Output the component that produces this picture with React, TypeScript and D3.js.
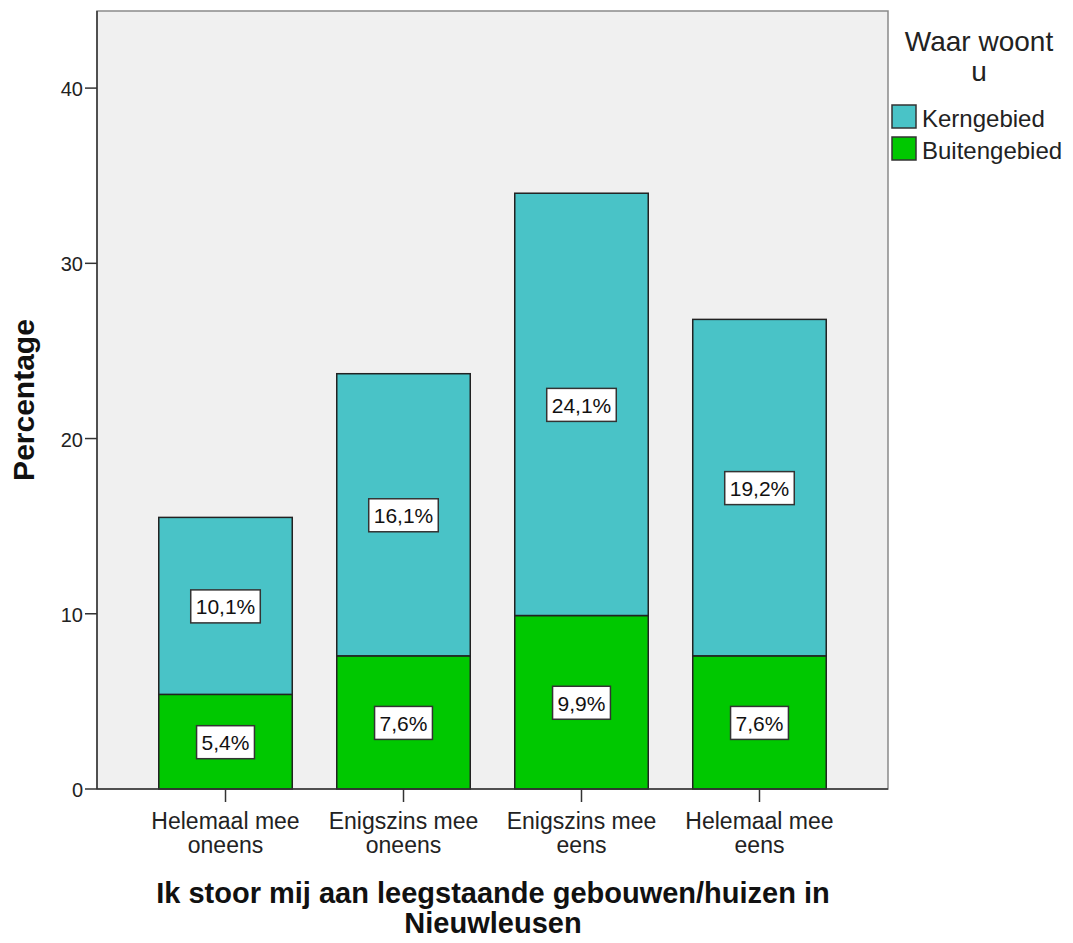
import React, { useEffect, useRef } from 'react';
import * as d3 from 'd3';

const categories = [
  ['Helemaal mee', 'oneens'],
  ['Enigszins mee', 'oneens'],
  ['Enigszins mee', 'eens'],
  ['Helemaal mee', 'eens']
];
const buitengebied = [5.4, 7.6, 9.9, 7.6];
const kerngebied = [10.1, 16.1, 24.1, 19.2];
const seriesNames = ['Kerngebied', 'Buitengebied'];
const yTicks = [0, 10, 20, 30, 40];

const WIDTH = 1073;
const HEIGHT = 943;
const FONT = '"Liberation Sans", Arial, sans-serif';
const colors = { Kerngebied: '#49C3C7', Buitengebied: '#00C800' };

const App = () => {
  const rootRef = useRef<SVGSVGElement>(null);

  useEffect(() => {
    const svg = d3.select(rootRef.current).attr('width', WIDTH).attr('height', HEIGHT);
    svg.selectAll('*').remove();

    const left = 97, right = 888, top = 11, bottom = 789;

    const x = d3
      .scaleBand<number>()
      .domain(d3.range(categories.length))
      .range([left, right])
      .paddingInner(0.25)
      .paddingOuter(0.347);
    const y = d3.scaleLinear().domain([0, 44.4]).range([bottom, top]);

    // plot background + frame
    svg.append('rect')
      .attr('x', left).attr('y', top)
      .attr('width', right - left).attr('height', bottom - top)
      .attr('fill', '#F0F0F0')
      .attr('stroke', '#8a8a8a').attr('stroke-width', 1.5);

    // stacked bars
    const rows = categories.map((_, i) => ({ i, Buitengebied: buitengebied[i], Kerngebied: kerngebied[i] }));
    const stack = d3.stack<any>().keys(['Buitengebied', 'Kerngebied'])(rows);

    stack.forEach((layer) => {
      const g = svg.append('g');
      g.selectAll('rect')
        .data(layer)
        .enter()
        .append('rect')
        .attr('x', (d: any) => x(d.data.i)!)
        .attr('width', x.bandwidth())
        .attr('y', (d: any) => y(d[1]))
        .attr('height', (d: any) => y(d[0]) - y(d[1]))
        .attr('fill', (colors as any)[layer.key])
        .attr('stroke', '#222')
        .attr('stroke-width', 1.5);
    });

    // value labels
    stack.forEach((layer) => {
      layer.forEach((d: any) => {
        const v = d[1] - d[0];
        const cx = x(d.data.i)! + x.bandwidth() / 2;
        const cy = y((d[0] + d[1]) / 2);
        const label = v.toFixed(1).replace('.', ',') + '%';
        const g = svg.append('g');
        const t = g.append('text')
          .attr('x', cx).attr('y', cy + 1)
          .attr('text-anchor', 'middle')
          .attr('dominant-baseline', 'central')
          .attr('font-family', FONT)
          .attr('font-size', 21)
          .attr('fill', '#111')
          .text(label);
        const w = (t.node() as SVGTextElement).getComputedTextLength();
        g.insert('rect', 'text')
          .attr('x', cx - w / 2 - 5).attr('y', cy - 16)
          .attr('width', w + 10).attr('height', 33)
          .attr('fill', 'white').attr('stroke', '#333').attr('stroke-width', 1.5);
      });
    });

    // y axis
    svg.append('line')
      .attr('x1', left).attr('x2', left).attr('y1', top).attr('y2', bottom)
      .attr('stroke', '#333').attr('stroke-width', 1.5);
    const yAx = svg.append('g');
    yTicks.forEach((t) => {
      yAx.append('line')
        .attr('x1', left - 12).attr('x2', left).attr('y1', y(t)).attr('y2', y(t))
        .attr('stroke', '#333').attr('stroke-width', 1.5);
      yAx.append('text')
        .attr('x', left - 14).attr('y', y(t) + 1)
        .attr('text-anchor', 'end').attr('dominant-baseline', 'central')
        .attr('font-family', FONT).attr('font-size', 20).attr('fill', '#222')
        .text(t);
    });

    // x axis
    svg.append('line')
      .attr('x1', left).attr('x2', right).attr('y1', bottom).attr('y2', bottom)
      .attr('stroke', '#333').attr('stroke-width', 1.5);
    categories.forEach((c, i) => {
      const cx = x(i)! + x.bandwidth() / 2;
      svg.append('line')
        .attr('x1', cx).attr('x2', cx).attr('y1', bottom).attr('y2', bottom + 13)
        .attr('stroke', '#333').attr('stroke-width', 1.5);
      c.forEach((line, j) => {
        svg.append('text')
          .attr('x', cx).attr('y', 829 + j * 24)
          .attr('text-anchor', 'middle')
          .attr('font-family', FONT).attr('font-size', 23).attr('fill', '#222')
          .text(line);
      });
    });

    // axis titles
    svg.append('text')
      .attr('transform', `translate(34,${(top + bottom) / 2}) rotate(-90)`)
      .attr('text-anchor', 'middle')
      .attr('font-family', FONT).attr('font-size', 30).attr('font-weight', 'bold').attr('fill', '#111')
      .text('Percentage');
    ['Ik stoor mij aan leegstaande gebouwen/huizen in', 'Nieuwleusen'].forEach((line, j) => {
      svg.append('text')
        .attr('x', 493).attr('y', 903 + j * 30)
        .attr('text-anchor', 'middle')
        .attr('font-family', FONT).attr('font-size', 29).attr('font-weight', 'bold').attr('fill', '#111')
        .text(line);
    });

    // legend
    ['Waar woont', 'u'].forEach((line, j) => {
      svg.append('text')
        .attr('x', 979).attr('y', 51 + j * 30)
        .attr('text-anchor', 'middle')
        .attr('font-family', FONT).attr('font-size', 28).attr('fill', '#222')
        .text(line);
    });
    seriesNames.forEach((name, j) => {
      const yy = 105 + j * 32;
      svg.append('rect')
        .attr('x', 892).attr('y', yy)
        .attr('width', 24).attr('height', 23)
        .attr('fill', (colors as any)[name]).attr('stroke', '#333').attr('stroke-width', 1.5);
      svg.append('text')
        .attr('x', 922).attr('y', yy + 13)
        .attr('dominant-baseline', 'central')
        .attr('font-family', FONT).attr('font-size', 24).attr('fill', '#222')
        .text(name);
    });
  }, []);

  return <svg ref={rootRef} style={{ position: 'absolute', left: 0, top: 0, display: 'block' }}></svg>;
};

export default App;
